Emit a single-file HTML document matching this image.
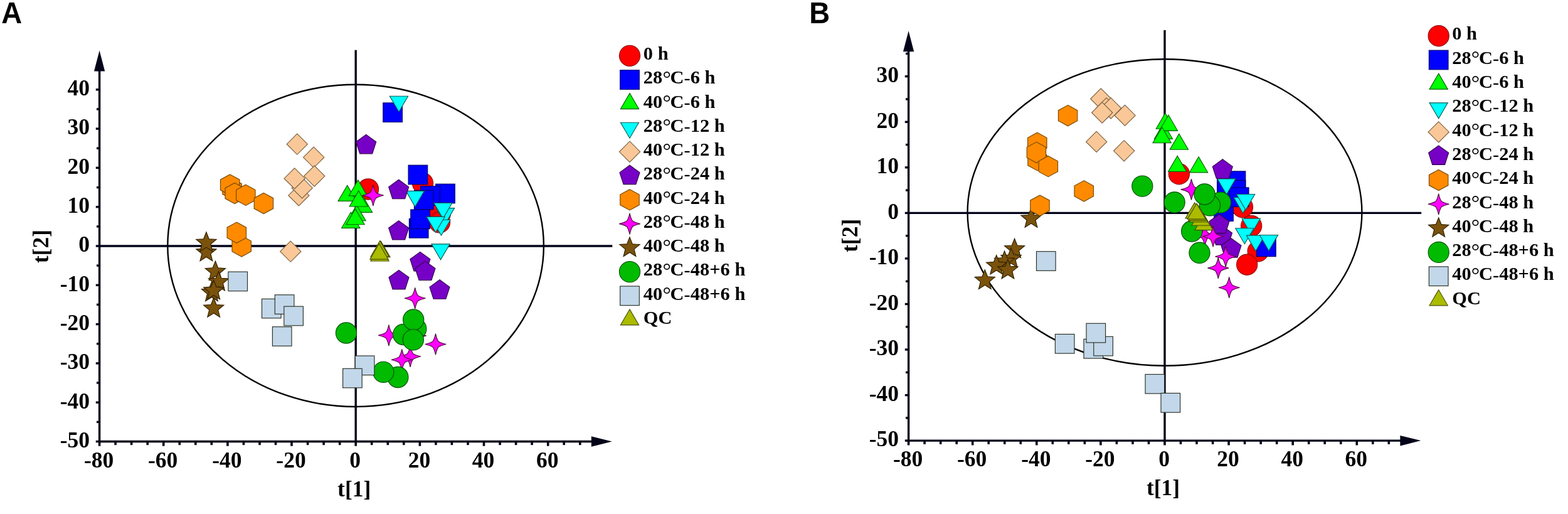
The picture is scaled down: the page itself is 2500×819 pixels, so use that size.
<!DOCTYPE html>
<html><head><meta charset="utf-8"><title>PCA score plots</title>
<style>
html,body{margin:0;padding:0;background:#fff;}
body{width:2500px;height:819px;overflow:hidden;}
svg{display:block;}
.tk{font-family:"Liberation Serif","Times New Roman",serif;font-weight:bold;font-size:35.5px;fill:#000;}
.lg{font-family:"Liberation Serif","Times New Roman",serif;font-weight:bold;font-size:30px;fill:#000;}
.dg{font-weight:normal;font-size:33px;}
.hy{font-weight:normal;}
.pl{font-family:"Liberation Sans",Arial,sans-serif;font-weight:bold;font-size:48.2px;fill:#000;}
</style></head><body>
<svg width="2500" height="819" viewBox="0 0 2500 819">
<rect width="100%" height="100%" fill="#fff"/>
<text class="pl" transform="translate(2.3,36.6) scale(0.945,1)">A</text>
<text class="pl" transform="translate(1290.2,36.6) scale(0.945,1)">B</text>
<ellipse cx="567.1" cy="391.4" rx="299.8" ry="256.6" fill="none" stroke="#000" stroke-width="2.4"/>
<line x1="158.6" y1="392" x2="976.3" y2="392" stroke="#03031a" stroke-width="3.4"/>
<line x1="567.2" y1="79.7" x2="567.2" y2="703.5" stroke="#03031a" stroke-width="3.4"/>
<line x1="158.6" y1="705.2" x2="158.6" y2="110.5" stroke="#03031a" stroke-width="3.4"/>
<line x1="156.9" y1="703.5" x2="945.8" y2="703.5" stroke="#03031a" stroke-width="3.4"/>
<polygon points="158.6,80.5 167.2,113.5 150,113.5" fill="#03031a"/>
<polygon points="975.8,703.5 942.8,695.2 942.8,711.8" fill="#03031a"/>
<line x1="158.6" y1="703.5" x2="158.6" y2="710.7" stroke="#03031a" stroke-width="3.6"/>
<line x1="184.1" y1="703.5" x2="184.1" y2="709.1" stroke="#03031a" stroke-width="3.6"/>
<line x1="209.6" y1="703.5" x2="209.6" y2="709.1" stroke="#03031a" stroke-width="3.6"/>
<line x1="235.2" y1="703.5" x2="235.2" y2="709.1" stroke="#03031a" stroke-width="3.6"/>
<line x1="260.7" y1="703.5" x2="260.7" y2="710.7" stroke="#03031a" stroke-width="3.6"/>
<line x1="286.3" y1="703.5" x2="286.3" y2="709.1" stroke="#03031a" stroke-width="3.6"/>
<line x1="311.8" y1="703.5" x2="311.8" y2="709.1" stroke="#03031a" stroke-width="3.6"/>
<line x1="337.3" y1="703.5" x2="337.3" y2="709.1" stroke="#03031a" stroke-width="3.6"/>
<line x1="362.9" y1="703.5" x2="362.9" y2="710.7" stroke="#03031a" stroke-width="3.6"/>
<line x1="388.4" y1="703.5" x2="388.4" y2="709.1" stroke="#03031a" stroke-width="3.6"/>
<line x1="414" y1="703.5" x2="414" y2="709.1" stroke="#03031a" stroke-width="3.6"/>
<line x1="439.5" y1="703.5" x2="439.5" y2="709.1" stroke="#03031a" stroke-width="3.6"/>
<line x1="465" y1="703.5" x2="465" y2="710.7" stroke="#03031a" stroke-width="3.6"/>
<line x1="490.6" y1="703.5" x2="490.6" y2="709.1" stroke="#03031a" stroke-width="3.6"/>
<line x1="516.1" y1="703.5" x2="516.1" y2="709.1" stroke="#03031a" stroke-width="3.6"/>
<line x1="541.7" y1="703.5" x2="541.7" y2="709.1" stroke="#03031a" stroke-width="3.6"/>
<line x1="567.2" y1="703.5" x2="567.2" y2="710.7" stroke="#03031a" stroke-width="3.6"/>
<line x1="592.7" y1="703.5" x2="592.7" y2="709.1" stroke="#03031a" stroke-width="3.6"/>
<line x1="618.3" y1="703.5" x2="618.3" y2="709.1" stroke="#03031a" stroke-width="3.6"/>
<line x1="643.8" y1="703.5" x2="643.8" y2="709.1" stroke="#03031a" stroke-width="3.6"/>
<line x1="669.4" y1="703.5" x2="669.4" y2="710.7" stroke="#03031a" stroke-width="3.6"/>
<line x1="694.9" y1="703.5" x2="694.9" y2="709.1" stroke="#03031a" stroke-width="3.6"/>
<line x1="720.4" y1="703.5" x2="720.4" y2="709.1" stroke="#03031a" stroke-width="3.6"/>
<line x1="746" y1="703.5" x2="746" y2="709.1" stroke="#03031a" stroke-width="3.6"/>
<line x1="771.5" y1="703.5" x2="771.5" y2="710.7" stroke="#03031a" stroke-width="3.6"/>
<line x1="797.1" y1="703.5" x2="797.1" y2="709.1" stroke="#03031a" stroke-width="3.6"/>
<line x1="822.6" y1="703.5" x2="822.6" y2="709.1" stroke="#03031a" stroke-width="3.6"/>
<line x1="848.1" y1="703.5" x2="848.1" y2="709.1" stroke="#03031a" stroke-width="3.6"/>
<line x1="873.7" y1="703.5" x2="873.7" y2="710.7" stroke="#03031a" stroke-width="3.6"/>
<line x1="899.2" y1="703.5" x2="899.2" y2="709.1" stroke="#03031a" stroke-width="3.6"/>
<line x1="924.8" y1="703.5" x2="924.8" y2="709.1" stroke="#03031a" stroke-width="3.6"/>
<line x1="950.3" y1="703.5" x2="950.3" y2="709.1" stroke="#03031a" stroke-width="3.6"/>
<line x1="158.6" y1="703.5" x2="152.8" y2="703.5" stroke="#03031a" stroke-width="3.4"/>
<line x1="158.6" y1="672.4" x2="154" y2="672.4" stroke="#03031a" stroke-width="3.4"/>
<line x1="158.6" y1="641.2" x2="152.8" y2="641.2" stroke="#03031a" stroke-width="3.4"/>
<line x1="158.6" y1="610" x2="154" y2="610" stroke="#03031a" stroke-width="3.4"/>
<line x1="158.6" y1="578.9" x2="152.8" y2="578.9" stroke="#03031a" stroke-width="3.4"/>
<line x1="158.6" y1="547.8" x2="154" y2="547.8" stroke="#03031a" stroke-width="3.4"/>
<line x1="158.6" y1="516.6" x2="152.8" y2="516.6" stroke="#03031a" stroke-width="3.4"/>
<line x1="158.6" y1="485.4" x2="154" y2="485.4" stroke="#03031a" stroke-width="3.4"/>
<line x1="158.6" y1="454.3" x2="152.8" y2="454.3" stroke="#03031a" stroke-width="3.4"/>
<line x1="158.6" y1="423.1" x2="154" y2="423.1" stroke="#03031a" stroke-width="3.4"/>
<line x1="158.6" y1="392" x2="152.8" y2="392" stroke="#03031a" stroke-width="3.4"/>
<line x1="158.6" y1="360.9" x2="154" y2="360.9" stroke="#03031a" stroke-width="3.4"/>
<line x1="158.6" y1="329.7" x2="152.8" y2="329.7" stroke="#03031a" stroke-width="3.4"/>
<line x1="158.6" y1="298.6" x2="154" y2="298.6" stroke="#03031a" stroke-width="3.4"/>
<line x1="158.6" y1="267.4" x2="152.8" y2="267.4" stroke="#03031a" stroke-width="3.4"/>
<line x1="158.6" y1="236.2" x2="154" y2="236.2" stroke="#03031a" stroke-width="3.4"/>
<line x1="158.6" y1="205.1" x2="152.8" y2="205.1" stroke="#03031a" stroke-width="3.4"/>
<line x1="158.6" y1="173.9" x2="154" y2="173.9" stroke="#03031a" stroke-width="3.4"/>
<line x1="158.6" y1="142.8" x2="152.8" y2="142.8" stroke="#03031a" stroke-width="3.4"/>
<line x1="158.6" y1="111.6" x2="154" y2="111.6" stroke="#03031a" stroke-width="3.4"/>
<text x="157.6" y="744.8" class="tk" text-anchor="middle">-80</text>
<text x="259.7" y="744.8" class="tk" text-anchor="middle">-60</text>
<text x="361.9" y="744.8" class="tk" text-anchor="middle">-40</text>
<text x="464" y="744.8" class="tk" text-anchor="middle">-20</text>
<text x="566.2" y="744.8" class="tk" text-anchor="middle">0</text>
<text x="668.4" y="744.8" class="tk" text-anchor="middle">20</text>
<text x="770.5" y="744.8" class="tk" text-anchor="middle">40</text>
<text x="872.7" y="744.8" class="tk" text-anchor="middle">60</text>
<text x="143.1" y="712.8" class="tk" text-anchor="end">-50</text>
<text x="143.1" y="650.5" class="tk" text-anchor="end">-40</text>
<text x="143.1" y="588.2" class="tk" text-anchor="end">-30</text>
<text x="143.1" y="525.9" class="tk" text-anchor="end">-20</text>
<text x="143.1" y="463.6" class="tk" text-anchor="end">-10</text>
<text x="143.1" y="401.3" class="tk" text-anchor="end">0</text>
<text x="143.1" y="339" class="tk" text-anchor="end">10</text>
<text x="143.1" y="276.7" class="tk" text-anchor="end">20</text>
<text x="143.1" y="214.4" class="tk" text-anchor="end">30</text>
<text x="143.1" y="152.1" class="tk" text-anchor="end">40</text>
<text x="564.7" y="790.8" class="tk" text-anchor="middle">t[1]</text>
<text class="tk" text-anchor="middle" transform="translate(76.6,392.6) rotate(-90)">t[2]</text>
<ellipse cx="1857" cy="338.5" rx="314.4" ry="244.3" fill="none" stroke="#000" stroke-width="2.4"/>
<line x1="1448.6" y1="339.4" x2="2266.2" y2="339.4" stroke="#03031a" stroke-width="3.4"/>
<line x1="1857" y1="48.1" x2="1857" y2="702.1" stroke="#03031a" stroke-width="3.4"/>
<line x1="1448.6" y1="703.9" x2="1448.6" y2="79.2" stroke="#03031a" stroke-width="3.4"/>
<line x1="1446.9" y1="702.1" x2="2235.4" y2="702.1" stroke="#03031a" stroke-width="3.4"/>
<polygon points="1448.6,49.2 1457.2,82.2 1440,82.2" fill="#03031a"/>
<polygon points="2265.4,702.1 2232.4,693.9 2232.4,710.4" fill="#03031a"/>
<line x1="1448.6" y1="702.1" x2="1448.6" y2="709.4" stroke="#03031a" stroke-width="3.6"/>
<line x1="1474.1" y1="702.1" x2="1474.1" y2="707.8" stroke="#03031a" stroke-width="3.6"/>
<line x1="1499.7" y1="702.1" x2="1499.7" y2="707.8" stroke="#03031a" stroke-width="3.6"/>
<line x1="1525.2" y1="702.1" x2="1525.2" y2="707.8" stroke="#03031a" stroke-width="3.6"/>
<line x1="1550.7" y1="702.1" x2="1550.7" y2="709.4" stroke="#03031a" stroke-width="3.6"/>
<line x1="1576.2" y1="702.1" x2="1576.2" y2="707.8" stroke="#03031a" stroke-width="3.6"/>
<line x1="1601.8" y1="702.1" x2="1601.8" y2="707.8" stroke="#03031a" stroke-width="3.6"/>
<line x1="1627.3" y1="702.1" x2="1627.3" y2="707.8" stroke="#03031a" stroke-width="3.6"/>
<line x1="1652.8" y1="702.1" x2="1652.8" y2="709.4" stroke="#03031a" stroke-width="3.6"/>
<line x1="1678.3" y1="702.1" x2="1678.3" y2="707.8" stroke="#03031a" stroke-width="3.6"/>
<line x1="1703.8" y1="702.1" x2="1703.8" y2="707.8" stroke="#03031a" stroke-width="3.6"/>
<line x1="1729.4" y1="702.1" x2="1729.4" y2="707.8" stroke="#03031a" stroke-width="3.6"/>
<line x1="1754.9" y1="702.1" x2="1754.9" y2="709.4" stroke="#03031a" stroke-width="3.6"/>
<line x1="1780.4" y1="702.1" x2="1780.4" y2="707.8" stroke="#03031a" stroke-width="3.6"/>
<line x1="1806" y1="702.1" x2="1806" y2="707.8" stroke="#03031a" stroke-width="3.6"/>
<line x1="1831.5" y1="702.1" x2="1831.5" y2="707.8" stroke="#03031a" stroke-width="3.6"/>
<line x1="1857" y1="702.1" x2="1857" y2="709.4" stroke="#03031a" stroke-width="3.6"/>
<line x1="1882.5" y1="702.1" x2="1882.5" y2="707.8" stroke="#03031a" stroke-width="3.6"/>
<line x1="1908" y1="702.1" x2="1908" y2="707.8" stroke="#03031a" stroke-width="3.6"/>
<line x1="1933.6" y1="702.1" x2="1933.6" y2="707.8" stroke="#03031a" stroke-width="3.6"/>
<line x1="1959.1" y1="702.1" x2="1959.1" y2="709.4" stroke="#03031a" stroke-width="3.6"/>
<line x1="1984.6" y1="702.1" x2="1984.6" y2="707.8" stroke="#03031a" stroke-width="3.6"/>
<line x1="2010.2" y1="702.1" x2="2010.2" y2="707.8" stroke="#03031a" stroke-width="3.6"/>
<line x1="2035.7" y1="702.1" x2="2035.7" y2="707.8" stroke="#03031a" stroke-width="3.6"/>
<line x1="2061.2" y1="702.1" x2="2061.2" y2="709.4" stroke="#03031a" stroke-width="3.6"/>
<line x1="2086.7" y1="702.1" x2="2086.7" y2="707.8" stroke="#03031a" stroke-width="3.6"/>
<line x1="2112.2" y1="702.1" x2="2112.2" y2="707.8" stroke="#03031a" stroke-width="3.6"/>
<line x1="2137.8" y1="702.1" x2="2137.8" y2="707.8" stroke="#03031a" stroke-width="3.6"/>
<line x1="2163.3" y1="702.1" x2="2163.3" y2="709.4" stroke="#03031a" stroke-width="3.6"/>
<line x1="2188.8" y1="702.1" x2="2188.8" y2="707.8" stroke="#03031a" stroke-width="3.6"/>
<line x1="2214.3" y1="702.1" x2="2214.3" y2="707.8" stroke="#03031a" stroke-width="3.6"/>
<line x1="2239.9" y1="702.1" x2="2239.9" y2="707.8" stroke="#03031a" stroke-width="3.6"/>
<line x1="1448.6" y1="702.1" x2="1442.8" y2="702.1" stroke="#03031a" stroke-width="3.4"/>
<line x1="1448.6" y1="665.9" x2="1444" y2="665.9" stroke="#03031a" stroke-width="3.4"/>
<line x1="1448.6" y1="629.6" x2="1442.8" y2="629.6" stroke="#03031a" stroke-width="3.4"/>
<line x1="1448.6" y1="593.3" x2="1444" y2="593.3" stroke="#03031a" stroke-width="3.4"/>
<line x1="1448.6" y1="557" x2="1442.8" y2="557" stroke="#03031a" stroke-width="3.4"/>
<line x1="1448.6" y1="520.8" x2="1444" y2="520.8" stroke="#03031a" stroke-width="3.4"/>
<line x1="1448.6" y1="484.5" x2="1442.8" y2="484.5" stroke="#03031a" stroke-width="3.4"/>
<line x1="1448.6" y1="448.2" x2="1444" y2="448.2" stroke="#03031a" stroke-width="3.4"/>
<line x1="1448.6" y1="411.9" x2="1442.8" y2="411.9" stroke="#03031a" stroke-width="3.4"/>
<line x1="1448.6" y1="375.7" x2="1444" y2="375.7" stroke="#03031a" stroke-width="3.4"/>
<line x1="1448.6" y1="339.4" x2="1442.8" y2="339.4" stroke="#03031a" stroke-width="3.4"/>
<line x1="1448.6" y1="303.1" x2="1444" y2="303.1" stroke="#03031a" stroke-width="3.4"/>
<line x1="1448.6" y1="266.8" x2="1442.8" y2="266.8" stroke="#03031a" stroke-width="3.4"/>
<line x1="1448.6" y1="230.6" x2="1444" y2="230.6" stroke="#03031a" stroke-width="3.4"/>
<line x1="1448.6" y1="194.3" x2="1442.8" y2="194.3" stroke="#03031a" stroke-width="3.4"/>
<line x1="1448.6" y1="158" x2="1444" y2="158" stroke="#03031a" stroke-width="3.4"/>
<line x1="1448.6" y1="121.7" x2="1442.8" y2="121.7" stroke="#03031a" stroke-width="3.4"/>
<line x1="1448.6" y1="85.5" x2="1444" y2="85.5" stroke="#03031a" stroke-width="3.4"/>
<text x="1447.6" y="743.4" class="tk" text-anchor="middle">-80</text>
<text x="1549.7" y="743.4" class="tk" text-anchor="middle">-60</text>
<text x="1651.8" y="743.4" class="tk" text-anchor="middle">-40</text>
<text x="1753.9" y="743.4" class="tk" text-anchor="middle">-20</text>
<text x="1856" y="743.4" class="tk" text-anchor="middle">0</text>
<text x="1958.1" y="743.4" class="tk" text-anchor="middle">20</text>
<text x="2060.2" y="743.4" class="tk" text-anchor="middle">40</text>
<text x="2162.3" y="743.4" class="tk" text-anchor="middle">60</text>
<text x="1433.1" y="711.4" class="tk" text-anchor="end">-50</text>
<text x="1433.1" y="638.9" class="tk" text-anchor="end">-40</text>
<text x="1433.1" y="566.3" class="tk" text-anchor="end">-30</text>
<text x="1433.1" y="493.8" class="tk" text-anchor="end">-20</text>
<text x="1433.1" y="421.2" class="tk" text-anchor="end">-10</text>
<text x="1433.1" y="348.7" class="tk" text-anchor="end">0</text>
<text x="1433.1" y="276.1" class="tk" text-anchor="end">10</text>
<text x="1433.1" y="203.6" class="tk" text-anchor="end">20</text>
<text x="1433.1" y="131" class="tk" text-anchor="end">30</text>
<text x="1854.5" y="789.4" class="tk" text-anchor="middle">t[1]</text>
<text class="tk" text-anchor="middle" transform="translate(1367,375.4) rotate(-90)">t[2]</text>
<g stroke-width="1.15">
<circle cx="587" cy="301.5" r="16.6" fill="#ff0000" stroke="#8c1010"/>
<circle cx="674" cy="292" r="16.6" fill="#ff0000" stroke="#8c1010"/>
<circle cx="702" cy="340" r="16.6" fill="#ff0000" stroke="#8c1010"/>
<circle cx="701" cy="354.3" r="16.6" fill="#ff0000" stroke="#8c1010"/>
<rect x="610.8" y="163.9" width="30.6" height="30.6" fill="#0000ff" stroke="#00006a"/>
<rect x="651.1" y="263.2" width="30.6" height="30.6" fill="#0000ff" stroke="#00006a"/>
<rect x="694.7" y="293.2" width="30.6" height="30.6" fill="#0000ff" stroke="#00006a"/>
<rect x="670.7" y="296.7" width="30.6" height="30.6" fill="#0000ff" stroke="#00006a"/>
<rect x="660.5" y="303.2" width="30.6" height="30.6" fill="#0000ff" stroke="#00006a"/>
<rect x="652.4" y="348.5" width="30.6" height="30.6" fill="#0000ff" stroke="#00006a"/>
<rect x="654.8" y="334" width="30.6" height="30.6" fill="#0000ff" stroke="#00006a"/>
<polygon points="553.7,295.4 568.3,320.4 539.1,320.4" fill="#00ff00" stroke="#006000"/>
<polygon points="570.8,286.9 585.4,311.9 556.2,311.9" fill="#00ff00" stroke="#006000"/>
<polygon points="579,313.3 593.6,338.3 564.4,338.3" fill="#00ff00" stroke="#006000"/>
<polygon points="568.6,326.7 583.2,351.7 554,351.7" fill="#00ff00" stroke="#006000"/>
<polygon points="559.3,338.3 573.9,363.3 544.7,363.3" fill="#00ff00" stroke="#006000"/>
<polygon points="566.5,332.7 581.1,357.7 551.9,357.7" fill="#00ff00" stroke="#006000"/>
<polygon points="571.8,304 586.4,329 557.2,329" fill="#00ff00" stroke="#006000"/>
<polygon points="621.4,153.2 650.6,153.2 636,178.2" fill="#00ffff" stroke="#0f5a50"/>
<polygon points="647.2,304.3 676.4,304.3 661.8,329.3" fill="#00ffff" stroke="#0f5a50"/>
<polygon points="695.4,331.6 724.6,331.6 710,356.6" fill="#00ffff" stroke="#0f5a50"/>
<polygon points="691.7,323.3 720.9,323.3 706.3,348.3" fill="#00ffff" stroke="#0f5a50"/>
<polygon points="688.9,350.2 718.1,350.2 703.5,375.2" fill="#00ffff" stroke="#0f5a50"/>
<polygon points="680,345.3 709.2,345.3 694.6,370.3" fill="#00ffff" stroke="#0f5a50"/>
<polygon points="688,388.8 717.2,388.8 702.6,413.8" fill="#00ffff" stroke="#0f5a50"/>
<polygon points="473.8,213.1 490.4,229.7 473.8,246.3 457.2,229.7" fill="#fac898" stroke="#7a6040"/>
<polygon points="500.2,234.1 516.8,250.7 500.2,267.3 483.6,250.7" fill="#fac898" stroke="#7a6040"/>
<polygon points="501.2,264 517.8,280.6 501.2,297.2 484.6,280.6" fill="#fac898" stroke="#7a6040"/>
<polygon points="476.4,294.8 493,311.4 476.4,328 459.8,311.4" fill="#fac898" stroke="#7a6040"/>
<polygon points="481.7,282.8 498.3,299.4 481.7,316 465.1,299.4" fill="#fac898" stroke="#7a6040"/>
<polygon points="469.7,267.8 486.3,284.4 469.7,301 453.1,284.4" fill="#fac898" stroke="#7a6040"/>
<polygon points="463.3,384.1 479.9,400.7 463.3,417.3 446.7,400.7" fill="#fac898" stroke="#7a6040"/>
<polygon points="583.7,214.4 599.7,226 593.6,244.8 573.8,244.8 567.7,226" fill="#7700c6" stroke="#30004a"/>
<polygon points="635.7,286.3 651.7,297.9 645.6,316.7 625.8,316.7 619.7,297.9" fill="#7700c6" stroke="#30004a"/>
<polygon points="635.7,351.6 651.7,363.2 645.6,382 625.8,382 619.7,363.2" fill="#7700c6" stroke="#30004a"/>
<polygon points="669.9,401.4 685.9,413 679.8,431.8 660,431.8 653.9,413" fill="#7700c6" stroke="#30004a"/>
<polygon points="678,416.1 694,427.7 687.9,446.5 668.1,446.5 662,427.7" fill="#7700c6" stroke="#30004a"/>
<polygon points="636,430.4 652,442 645.9,460.8 626.1,460.8 620,442" fill="#7700c6" stroke="#30004a"/>
<polygon points="701,445.8 717,457.4 710.9,476.2 691.1,476.2 685,457.4" fill="#7700c6" stroke="#30004a"/>
<polygon points="370,284.4 385.2,292.7 385.2,309.3 370,317.6 354.8,309.3 354.8,292.7" fill="#ff8a00" stroke="#754800"/>
<polygon points="366.7,277.9 381.9,286.2 381.9,302.8 366.7,311.1 351.5,302.8 351.5,286.2" fill="#ff8a00" stroke="#754800"/>
<polygon points="374.2,291.4 389.4,299.7 389.4,316.3 374.2,324.6 359,316.3 359,299.7" fill="#ff8a00" stroke="#754800"/>
<polygon points="391.8,294.2 407,302.5 407,319.1 391.8,327.4 376.6,319.1 376.6,302.5" fill="#ff8a00" stroke="#754800"/>
<polygon points="420.4,307.4 435.6,315.7 435.6,332.3 420.4,340.6 405.2,332.3 405.2,315.7" fill="#ff8a00" stroke="#754800"/>
<polygon points="385.2,375.8 400.4,384.1 400.4,400.7 385.2,409 370,400.7 370,384.1" fill="#ff8a00" stroke="#754800"/>
<polygon points="377.3,354.1 392.5,362.4 392.5,379 377.3,387.3 362.1,379 362.1,362.4" fill="#ff8a00" stroke="#754800"/>
<path d="M663,518.2 Q664.8,526.5 667.5,530.5 Q671.5,533.2 679.8,535 Q671.5,536.8 667.5,539.5 Q664.8,543.5 663,551.8 Q661.2,543.5 658.5,539.5 Q654.5,536.8 646.2,535 Q654.5,533.2 658.5,530.5 Q661.2,526.5 663,518.2Z" fill="#ff00ff" stroke="#4a1038"/>
<path d="M594.9,294.5 Q596.7,302.8 599.4,306.8 Q603.4,309.5 611.7,311.3 Q603.4,313.1 599.4,315.8 Q596.7,319.8 594.9,328.1 Q593.1,319.8 590.4,315.8 Q586.4,313.1 578.1,311.3 Q586.4,309.5 590.4,306.8 Q593.1,302.8 594.9,294.5Z" fill="#ff00ff" stroke="#4a1038"/>
<path d="M661.7,458.4 Q663.5,466.7 666.2,470.7 Q670.2,473.4 678.5,475.2 Q670.2,477 666.2,479.7 Q663.5,483.7 661.7,492 Q659.9,483.7 657.2,479.7 Q653.2,477 644.9,475.2 Q653.2,473.4 657.2,470.7 Q659.9,466.7 661.7,458.4Z" fill="#ff00ff" stroke="#4a1038"/>
<path d="M619.9,517.5 Q621.7,525.8 624.4,529.8 Q628.4,532.5 636.7,534.3 Q628.4,536.1 624.4,538.8 Q621.7,542.8 619.9,551.1 Q618.1,542.8 615.4,538.8 Q611.4,536.1 603.1,534.3 Q611.4,532.5 615.4,529.8 Q618.1,525.8 619.9,517.5Z" fill="#ff00ff" stroke="#4a1038"/>
<path d="M694.5,531.7 Q696.3,540 699,544 Q703,546.7 711.3,548.5 Q703,550.3 699,553 Q696.3,557 694.5,565.3 Q692.7,557 690,553 Q686,550.3 677.7,548.5 Q686,546.7 690,544 Q692.7,540 694.5,531.7Z" fill="#ff00ff" stroke="#4a1038"/>
<path d="M654.1,551.2 Q655.9,559.5 658.6,563.5 Q662.6,566.2 670.9,568 Q662.6,569.8 658.6,572.5 Q655.9,576.5 654.1,584.8 Q652.3,576.5 649.6,572.5 Q645.6,569.8 637.3,568 Q645.6,566.2 649.6,563.5 Q652.3,559.5 654.1,551.2Z" fill="#ff00ff" stroke="#4a1038"/>
<path d="M640.8,556.4 Q642.6,564.7 645.3,568.7 Q649.3,571.4 657.6,573.2 Q649.3,575 645.3,577.7 Q642.6,581.7 640.8,590 Q639,581.7 636.3,577.7 Q632.3,575 624,573.2 Q632.3,571.4 636.3,568.7 Q639,564.7 640.8,556.4Z" fill="#ff00ff" stroke="#4a1038"/>
<polygon points="328.9,385.2 333.2,396.1 345,396.9 335.9,404.4 338.8,415.8 328.9,409.5 319,415.8 321.9,404.4 312.8,396.9 324.6,396.1" fill="#7a520c" stroke="#2e2000"/>
<polygon points="328.9,369.8 333.2,380.7 345,381.5 335.9,389 338.8,400.4 328.9,394.1 319,400.4 321.9,389 312.8,381.5 324.6,380.7" fill="#7a520c" stroke="#2e2000"/>
<polygon points="343.4,416 347.7,426.9 359.5,427.7 350.4,435.2 353.3,446.6 343.4,440.3 333.5,446.6 336.4,435.2 327.3,427.7 339.1,426.9" fill="#7a520c" stroke="#2e2000"/>
<polygon points="348.5,432.4 352.8,443.3 364.6,444.1 355.5,451.6 358.4,463 348.5,456.7 338.6,463 341.5,451.6 332.4,444.1 344.2,443.3" fill="#7a520c" stroke="#2e2000"/>
<polygon points="337.5,449.1 341.8,460 353.6,460.8 344.5,468.3 347.4,479.7 337.5,473.4 327.6,479.7 330.5,468.3 321.4,460.8 333.2,460" fill="#7a520c" stroke="#2e2000"/>
<polygon points="340.7,446.2 345,457.1 356.8,457.9 347.7,465.4 350.6,476.8 340.7,470.5 330.8,476.8 333.7,465.4 324.6,457.9 336.4,457.1" fill="#7a520c" stroke="#2e2000"/>
<polygon points="340.7,474.6 345,485.5 356.8,486.3 347.7,493.8 350.6,505.2 340.7,498.9 330.8,505.2 333.7,493.8 324.6,486.3 336.4,485.5" fill="#7a520c" stroke="#2e2000"/>
<circle cx="552" cy="530.5" r="16.6" fill="#00bb00" stroke="#005000"/>
<circle cx="663.3" cy="524" r="16.6" fill="#00bb00" stroke="#005000"/>
<circle cx="643.2" cy="533" r="16.6" fill="#00bb00" stroke="#005000"/>
<circle cx="659.2" cy="509.5" r="16.6" fill="#00bb00" stroke="#005000"/>
<circle cx="658.8" cy="541.3" r="16.6" fill="#00bb00" stroke="#005000"/>
<circle cx="634.4" cy="601" r="16.6" fill="#00bb00" stroke="#005000"/>
<circle cx="611.3" cy="592.8" r="16.6" fill="#00bb00" stroke="#005000"/>
<rect x="363.9" y="433.1" width="30.6" height="30.6" fill="#c2d7ea" stroke="#2a3024"/>
<rect x="417.5" y="476.3" width="30.6" height="30.6" fill="#c2d7ea" stroke="#2a3024"/>
<rect x="438.3" y="469.8" width="30.6" height="30.6" fill="#c2d7ea" stroke="#2a3024"/>
<rect x="452.8" y="488.2" width="30.6" height="30.6" fill="#c2d7ea" stroke="#2a3024"/>
<rect x="434.4" y="520.7" width="30.6" height="30.6" fill="#c2d7ea" stroke="#2a3024"/>
<rect x="566.3" y="567" width="30.6" height="30.6" fill="#c2d7ea" stroke="#2a3024"/>
<rect x="546.6" y="587.3" width="30.6" height="30.6" fill="#c2d7ea" stroke="#2a3024"/>
<polygon points="607.4,384.6 622,409.6 592.8,409.6" fill="#aabb00" stroke="#4a5000"/>
<polygon points="606.5,384.2 621.1,409.2 591.9,409.2" fill="#aabb00" stroke="#4a5000"/>
<polygon points="605.6,383.8 620.2,408.8 591,408.8" fill="#aabb00" stroke="#4a5000"/>
<polygon points="605.5,391 620.1,416 590.9,416" fill="#aabb00" stroke="#4a5000"/>
<polygon points="604.5,388.1 619.1,413.1 589.9,413.1" fill="#aabb00" stroke="#4a5000"/>
<polygon points="1644,331.6 1648.3,342.5 1660.1,343.3 1651,350.8 1653.9,362.2 1644,355.9 1634.1,362.2 1637,350.8 1627.9,343.3 1639.7,342.5" fill="#7a520c" stroke="#2e2000"/>
<circle cx="1879.9" cy="277.2" r="16.6" fill="#ff0000" stroke="#8c1010"/>
<circle cx="1981" cy="330" r="16.6" fill="#ff0000" stroke="#8c1010"/>
<circle cx="1995.2" cy="360" r="16.6" fill="#ff0000" stroke="#8c1010"/>
<circle cx="2005.7" cy="400.4" r="16.6" fill="#ff0000" stroke="#8c1010"/>
<circle cx="1988.2" cy="421.7" r="16.6" fill="#ff0000" stroke="#8c1010"/>
<rect x="1935.7" y="321.7" width="30.6" height="30.6" fill="#0000ff" stroke="#00006a"/>
<rect x="1941.3" y="296.7" width="30.6" height="30.6" fill="#0000ff" stroke="#00006a"/>
<rect x="1940.7" y="278.7" width="30.6" height="30.6" fill="#0000ff" stroke="#00006a"/>
<rect x="1955.2" y="272.9" width="30.6" height="30.6" fill="#0000ff" stroke="#00006a"/>
<rect x="1955.2" y="287.5" width="30.6" height="30.6" fill="#0000ff" stroke="#00006a"/>
<rect x="1960.4" y="298.9" width="30.6" height="30.6" fill="#0000ff" stroke="#00006a"/>
<rect x="2003.6" y="378.1" width="30.6" height="30.6" fill="#0000ff" stroke="#00006a"/>
<polygon points="1855,196.3 1869.6,221.3 1840.4,221.3" fill="#00ff00" stroke="#006000"/>
<polygon points="1857.9,180.2 1872.5,205.2 1843.3,205.2" fill="#00ff00" stroke="#006000"/>
<polygon points="1863,183.3 1877.6,208.3 1848.4,208.3" fill="#00ff00" stroke="#006000"/>
<polygon points="1852.7,202.7 1867.3,227.7 1838.1,227.7" fill="#00ff00" stroke="#006000"/>
<polygon points="1879.9,213.2 1894.5,238.2 1865.3,238.2" fill="#00ff00" stroke="#006000"/>
<polygon points="1877.2,248.4 1891.8,273.4 1862.6,273.4" fill="#00ff00" stroke="#006000"/>
<polygon points="1911.1,249.8 1925.7,274.8 1896.5,274.8" fill="#00ff00" stroke="#006000"/>
<polygon points="1940.9,284.8 1970.1,284.8 1955.5,309.8" fill="#00ffff" stroke="#0f5a50"/>
<polygon points="1967.1,314.7 1996.3,314.7 1981.7,339.7" fill="#00ffff" stroke="#0f5a50"/>
<polygon points="1971.5,309.5 2000.7,309.5 1986.1,334.5" fill="#00ffff" stroke="#0f5a50"/>
<polygon points="1980.2,348.2 2009.4,348.2 1994.8,373.2" fill="#00ffff" stroke="#0f5a50"/>
<polygon points="1969.8,363.7 1999,363.7 1984.4,388.7" fill="#00ffff" stroke="#0f5a50"/>
<polygon points="1987.4,375.1 2016.6,375.1 2002,400.1" fill="#00ffff" stroke="#0f5a50"/>
<polygon points="2008.4,374.5 2037.6,374.5 2023,399.5" fill="#00ffff" stroke="#0f5a50"/>
<polygon points="1755.3,140.9 1771.9,157.5 1755.3,174.1 1738.7,157.5" fill="#fac898" stroke="#7a6040"/>
<polygon points="1764,155.9 1780.6,172.5 1764,189.1 1747.4,172.5" fill="#fac898" stroke="#7a6040"/>
<polygon points="1771.2,155.9 1787.8,172.5 1771.2,189.1 1754.6,172.5" fill="#fac898" stroke="#7a6040"/>
<polygon points="1757.2,162.9 1773.8,179.5 1757.2,196.1 1740.6,179.5" fill="#fac898" stroke="#7a6040"/>
<polygon points="1793.6,167.3 1810.2,183.9 1793.6,200.5 1777,183.9" fill="#fac898" stroke="#7a6040"/>
<polygon points="1748.2,209.3 1764.8,225.9 1748.2,242.5 1731.6,225.9" fill="#fac898" stroke="#7a6040"/>
<polygon points="1792.2,223.7 1808.8,240.3 1792.2,256.9 1775.6,240.3" fill="#fac898" stroke="#7a6040"/>
<polygon points="1949.3,253.8 1965.3,265.4 1959.2,284.2 1939.4,284.2 1933.3,265.4" fill="#7700c6" stroke="#30004a"/>
<polygon points="1948.5,359.7 1964.5,371.3 1958.4,390.1 1938.6,390.1 1932.5,371.3" fill="#7700c6" stroke="#30004a"/>
<polygon points="1944,341.2 1960,352.8 1953.9,371.6 1934.1,371.6 1928,352.8" fill="#7700c6" stroke="#30004a"/>
<polygon points="1963,379.7 1979,391.3 1972.9,410.1 1953.1,410.1 1947,391.3" fill="#7700c6" stroke="#30004a"/>
<polygon points="1702.6,167.6 1717.8,175.9 1717.8,192.5 1702.6,200.8 1687.4,192.5 1687.4,175.9" fill="#ff8a00" stroke="#754800"/>
<polygon points="1653.8,211.2 1669,219.5 1669,236.1 1653.8,244.4 1638.6,236.1 1638.6,219.5" fill="#ff8a00" stroke="#754800"/>
<polygon points="1654,238.7 1669.2,247 1669.2,263.6 1654,271.9 1638.8,263.6 1638.8,247" fill="#ff8a00" stroke="#754800"/>
<polygon points="1652.4,226.3 1667.6,234.6 1667.6,251.2 1652.4,259.5 1637.2,251.2 1637.2,234.6" fill="#ff8a00" stroke="#754800"/>
<polygon points="1671.3,248.5 1686.5,256.8 1686.5,273.4 1671.3,281.7 1656.1,273.4 1656.1,256.8" fill="#ff8a00" stroke="#754800"/>
<polygon points="1728.2,287.8 1743.4,296.1 1743.4,312.7 1728.2,321 1713,312.7 1713,296.1" fill="#ff8a00" stroke="#754800"/>
<polygon points="1658,310.9 1673.2,319.2 1673.2,335.8 1658,344.1 1642.8,335.8 1642.8,319.2" fill="#ff8a00" stroke="#754800"/>
<path d="M1899.5,285.1 Q1901.3,293.4 1904,297.4 Q1908,300.1 1916.3,301.9 Q1908,303.7 1904,306.4 Q1901.3,310.4 1899.5,318.7 Q1897.7,310.4 1895,306.4 Q1891,303.7 1882.7,301.9 Q1891,300.1 1895,297.4 Q1897.7,293.4 1899.5,285.1Z" fill="#ff00ff" stroke="#4a1038"/>
<path d="M1921,358.2 Q1922.8,366.5 1925.5,370.5 Q1929.5,373.2 1937.8,375 Q1929.5,376.8 1925.5,379.5 Q1922.8,383.5 1921,391.8 Q1919.2,383.5 1916.5,379.5 Q1912.5,376.8 1904.2,375 Q1912.5,373.2 1916.5,370.5 Q1919.2,366.5 1921,358.2Z" fill="#ff00ff" stroke="#4a1038"/>
<path d="M1934.1,359.9 Q1935.9,368.2 1938.6,372.2 Q1942.6,374.9 1950.9,376.7 Q1942.6,378.5 1938.6,381.2 Q1935.9,385.2 1934.1,393.5 Q1932.3,385.2 1929.6,381.2 Q1925.6,378.5 1917.3,376.7 Q1925.6,374.9 1929.6,372.2 Q1932.3,368.2 1934.1,359.9Z" fill="#ff00ff" stroke="#4a1038"/>
<path d="M1954.2,392 Q1956,400.3 1958.7,404.3 Q1962.7,407 1971,408.8 Q1962.7,410.6 1958.7,413.3 Q1956,417.3 1954.2,425.6 Q1952.4,417.3 1949.7,413.3 Q1945.7,410.6 1937.4,408.8 Q1945.7,407 1949.7,404.3 Q1952.4,400.3 1954.2,392Z" fill="#ff00ff" stroke="#4a1038"/>
<path d="M1942.3,410.3 Q1944.1,418.6 1946.8,422.6 Q1950.8,425.3 1959.1,427.1 Q1950.8,428.9 1946.8,431.6 Q1944.1,435.6 1942.3,443.9 Q1940.5,435.6 1937.8,431.6 Q1933.8,428.9 1925.5,427.1 Q1933.8,425.3 1937.8,422.6 Q1940.5,418.6 1942.3,410.3Z" fill="#ff00ff" stroke="#4a1038"/>
<path d="M1959.7,441.4 Q1961.5,449.7 1964.2,453.7 Q1968.2,456.4 1976.5,458.2 Q1968.2,460 1964.2,462.7 Q1961.5,466.7 1959.7,475 Q1957.9,466.7 1955.2,462.7 Q1951.2,460 1942.9,458.2 Q1951.2,456.4 1955.2,453.7 Q1957.9,449.7 1959.7,441.4Z" fill="#ff00ff" stroke="#4a1038"/>
<polygon points="1617.6,380.1 1621.9,391 1633.7,391.8 1624.6,399.3 1627.5,410.7 1617.6,404.4 1607.7,410.7 1610.6,399.3 1601.5,391.8 1613.3,391" fill="#7a520c" stroke="#2e2000"/>
<polygon points="1612.1,395.1 1616.4,406 1628.2,406.8 1619.1,414.3 1622,425.7 1612.1,419.4 1602.2,425.7 1605.1,414.3 1596,406.8 1607.8,406" fill="#7a520c" stroke="#2e2000"/>
<polygon points="1601.6,399.9 1605.9,410.8 1617.7,411.6 1608.6,419.1 1611.5,430.5 1601.6,424.2 1591.7,430.5 1594.6,419.1 1585.5,411.6 1597.3,410.8" fill="#7a520c" stroke="#2e2000"/>
<polygon points="1588.7,406.5 1593,417.4 1604.8,418.2 1595.7,425.7 1598.6,437.1 1588.7,430.8 1578.8,437.1 1581.7,425.7 1572.6,418.2 1584.4,417.4" fill="#7a520c" stroke="#2e2000"/>
<polygon points="1606.9,413.4 1611.2,424.3 1623,425.1 1613.9,432.6 1616.8,444 1606.9,437.7 1597,444 1599.9,432.6 1590.8,425.1 1602.6,424.3" fill="#7a520c" stroke="#2e2000"/>
<polygon points="1570.3,429.9 1574.6,440.8 1586.4,441.6 1577.3,449.1 1580.2,460.5 1570.3,454.2 1560.4,460.5 1563.3,449.1 1554.2,441.6 1566,440.8" fill="#7a520c" stroke="#2e2000"/>
<circle cx="1821.3" cy="296.6" r="16.6" fill="#00bb00" stroke="#005000"/>
<circle cx="1872.6" cy="322.4" r="16.6" fill="#00bb00" stroke="#005000"/>
<circle cx="1946" cy="322.6" r="16.6" fill="#00bb00" stroke="#005000"/>
<circle cx="1929" cy="327.3" r="16.6" fill="#00bb00" stroke="#005000"/>
<circle cx="1920.5" cy="309.5" r="16.6" fill="#00bb00" stroke="#005000"/>
<circle cx="1900.2" cy="368.5" r="16.6" fill="#00bb00" stroke="#005000"/>
<circle cx="1912.5" cy="402.8" r="16.6" fill="#00bb00" stroke="#005000"/>
<rect x="1652.5" y="400.7" width="30.6" height="30.6" fill="#c2d7ea" stroke="#2a3024"/>
<rect x="1682.4" y="532.5" width="30.6" height="30.6" fill="#c2d7ea" stroke="#2a3024"/>
<rect x="1728" y="540.4" width="30.6" height="30.6" fill="#c2d7ea" stroke="#2a3024"/>
<rect x="1743.8" y="536.3" width="30.6" height="30.6" fill="#c2d7ea" stroke="#2a3024"/>
<rect x="1732" y="515.3" width="30.6" height="30.6" fill="#c2d7ea" stroke="#2a3024"/>
<rect x="1826" y="596.5" width="30.6" height="30.6" fill="#c2d7ea" stroke="#2a3024"/>
<rect x="1851" y="626.5" width="30.6" height="30.6" fill="#c2d7ea" stroke="#2a3024"/>
<polygon points="1919.5,341.6 1934.1,366.6 1904.9,366.6" fill="#aabb00" stroke="#4a5000"/>
<polygon points="1914.6,334.2 1929.2,359.2 1900,359.2" fill="#aabb00" stroke="#4a5000"/>
<polygon points="1911,328.7 1925.6,353.7 1896.4,353.7" fill="#aabb00" stroke="#4a5000"/>
<polygon points="1909.5,326.3 1924.1,351.3 1894.9,351.3" fill="#aabb00" stroke="#4a5000"/>
<polygon points="1904.6,322.9 1919.2,347.9 1890,347.9" fill="#aabb00" stroke="#4a5000"/>
<polygon points="1907.8,324.1 1922.4,349.1 1893.2,349.1" fill="#aabb00" stroke="#4a5000"/>
<circle cx="1004" cy="88.8" r="16.6" fill="#ff0000" stroke="#8c1010"/>
<text class="lg" transform="translate(1025.8,95) scale(1.015,1)">0 h</text>
<rect x="988.7" y="111.8" width="30.6" height="30.6" fill="#0000ff" stroke="#00006a"/>
<text class="lg" transform="translate(1025.8,133.2) scale(1.015,1)">28<tspan class="dg" dx="0.2" dy="2.6">°</tspan><tspan dx="-1.2" dy="-2.6">C</tspan><tspan class="hy" dy="1.2">-</tspan><tspan dy="-1.2">6 h</tspan></text>
<polygon points="1004,148.6 1018.6,173.6 989.4,173.6" fill="#00ff00" stroke="#006000"/>
<text class="lg" transform="translate(1025.8,171.5) scale(1.015,1)">40<tspan class="dg" dx="0.2" dy="2.6">°</tspan><tspan dx="-1.2" dy="-2.6">C</tspan><tspan class="hy" dy="1.2">-</tspan><tspan dy="-1.2">6 h</tspan></text>
<polygon points="989.4,195.2 1018.6,195.2 1004,220.2" fill="#00ffff" stroke="#0f5a50"/>
<text class="lg" transform="translate(1025.8,209.8) scale(1.015,1)">28<tspan class="dg" dx="0.2" dy="2.6">°</tspan><tspan dx="-1.2" dy="-2.6">C</tspan><tspan class="hy" dy="1.2">-</tspan><tspan dy="-1.2">12 h</tspan></text>
<polygon points="1004,225.2 1020.6,241.8 1004,258.4 987.4,241.8" fill="#fac898" stroke="#7a6040"/>
<text class="lg" transform="translate(1025.8,248) scale(1.015,1)">40<tspan class="dg" dx="0.2" dy="2.6">°</tspan><tspan dx="-1.2" dy="-2.6">C</tspan><tspan class="hy" dy="1.2">-</tspan><tspan dy="-1.2">12 h</tspan></text>
<polygon points="1004,263.2 1020,274.9 1013.9,293.6 994.1,293.6 988,274.9" fill="#7700c6" stroke="#30004a"/>
<text class="lg" transform="translate(1025.8,286.2) scale(1.015,1)">28<tspan class="dg" dx="0.2" dy="2.6">°</tspan><tspan dx="-1.2" dy="-2.6">C</tspan><tspan class="hy" dy="1.2">-</tspan><tspan dy="-1.2">24 h</tspan></text>
<polygon points="1004,301.7 1019.2,310 1019.2,326.6 1004,334.9 988.8,326.6 988.8,310" fill="#ff8a00" stroke="#754800"/>
<text class="lg" transform="translate(1025.8,324.5) scale(1.015,1)">40<tspan class="dg" dx="0.2" dy="2.6">°</tspan><tspan dx="-1.2" dy="-2.6">C</tspan><tspan class="hy" dy="1.2">-</tspan><tspan dy="-1.2">24 h</tspan></text>
<path d="M1004,339.8 Q1005.8,348 1008.5,352 Q1012.5,354.7 1020.8,356.6 Q1012.5,358.4 1008.5,361.1 Q1005.8,365.1 1004,373.4 Q1002.2,365.1 999.5,361.1 Q995.5,358.4 987.2,356.6 Q995.5,354.7 999.5,352 Q1002.2,348 1004,339.8Z" fill="#ff00ff" stroke="#4a1038"/>
<text class="lg" transform="translate(1025.8,362.8) scale(1.015,1)">28<tspan class="dg" dx="0.2" dy="2.6">°</tspan><tspan dx="-1.2" dy="-2.6">C</tspan><tspan class="hy" dy="1.2">-</tspan><tspan dy="-1.2">48 h</tspan></text>
<polygon points="1004,377.9 1008.3,388.8 1020.1,389.6 1011,397.1 1013.9,408.5 1004,402.2 994.1,408.5 997,397.1 987.9,389.6 999.7,388.8" fill="#7a520c" stroke="#2e2000"/>
<text class="lg" transform="translate(1025.8,401) scale(1.015,1)">40<tspan class="dg" dx="0.2" dy="2.6">°</tspan><tspan dx="-1.2" dy="-2.6">C</tspan><tspan class="hy" dy="1.2">-</tspan><tspan dy="-1.2">48 h</tspan></text>
<circle cx="1004" cy="433.1" r="16.6" fill="#00bb00" stroke="#005000"/>
<text class="lg" transform="translate(1025.8,439.2) scale(1.015,1)">28<tspan class="dg" dx="0.2" dy="2.6">°</tspan><tspan dx="-1.2" dy="-2.6">C</tspan><tspan class="hy" dy="1.2">-</tspan><tspan dy="-1.2">48+6 h</tspan></text>
<rect x="988.7" y="456" width="30.6" height="30.6" fill="#c2d7ea" stroke="#2a3024"/>
<text class="lg" transform="translate(1025.8,477.5) scale(1.015,1)">40<tspan class="dg" dx="0.2" dy="2.6">°</tspan><tspan dx="-1.2" dy="-2.6">C</tspan><tspan class="hy" dy="1.2">-</tspan><tspan dy="-1.2">48+6 h</tspan></text>
<polygon points="1004,492.9 1018.6,517.9 989.4,517.9" fill="#aabb00" stroke="#4a5000"/>
<text class="lg" transform="translate(1025.8,515.8) scale(1.015,1)">QC</text>
<circle cx="2293.7" cy="57.2" r="16.6" fill="#ff0000" stroke="#8c1010"/>
<text class="lg" transform="translate(2315.2,63.4) scale(1.015,1)">0 h</text>
<rect x="2278.4" y="80.2" width="30.6" height="30.6" fill="#0000ff" stroke="#00006a"/>
<text class="lg" transform="translate(2315.2,101.7) scale(1.015,1)">28<tspan class="dg" dx="0.2" dy="2.6">°</tspan><tspan dx="-1.2" dy="-2.6">C</tspan><tspan class="hy" dy="1.2">-</tspan><tspan dy="-1.2">6 h</tspan></text>
<polygon points="2293.7,117.1 2308.3,142.1 2279.1,142.1" fill="#00ff00" stroke="#006000"/>
<text class="lg" transform="translate(2315.2,140) scale(1.015,1)">40<tspan class="dg" dx="0.2" dy="2.6">°</tspan><tspan dx="-1.2" dy="-2.6">C</tspan><tspan class="hy" dy="1.2">-</tspan><tspan dy="-1.2">6 h</tspan></text>
<polygon points="2279.1,163.8 2308.3,163.8 2293.7,188.8" fill="#00ffff" stroke="#0f5a50"/>
<text class="lg" transform="translate(2315.2,178.3) scale(1.015,1)">28<tspan class="dg" dx="0.2" dy="2.6">°</tspan><tspan dx="-1.2" dy="-2.6">C</tspan><tspan class="hy" dy="1.2">-</tspan><tspan dy="-1.2">12 h</tspan></text>
<polygon points="2293.7,193.8 2310.3,210.4 2293.7,227 2277.1,210.4" fill="#fac898" stroke="#7a6040"/>
<text class="lg" transform="translate(2315.2,216.6) scale(1.015,1)">40<tspan class="dg" dx="0.2" dy="2.6">°</tspan><tspan dx="-1.2" dy="-2.6">C</tspan><tspan class="hy" dy="1.2">-</tspan><tspan dy="-1.2">12 h</tspan></text>
<polygon points="2293.7,231.9 2309.7,243.5 2303.6,262.3 2283.8,262.3 2277.7,243.5" fill="#7700c6" stroke="#30004a"/>
<text class="lg" transform="translate(2315.2,254.9) scale(1.015,1)">28<tspan class="dg" dx="0.2" dy="2.6">°</tspan><tspan dx="-1.2" dy="-2.6">C</tspan><tspan class="hy" dy="1.2">-</tspan><tspan dy="-1.2">24 h</tspan></text>
<polygon points="2293.7,270.4 2308.9,278.7 2308.9,295.3 2293.7,303.6 2278.5,295.3 2278.5,278.7" fill="#ff8a00" stroke="#754800"/>
<text class="lg" transform="translate(2315.2,293.2) scale(1.015,1)">40<tspan class="dg" dx="0.2" dy="2.6">°</tspan><tspan dx="-1.2" dy="-2.6">C</tspan><tspan class="hy" dy="1.2">-</tspan><tspan dy="-1.2">24 h</tspan></text>
<path d="M2293.7,308.5 Q2295.5,316.8 2298.2,320.8 Q2302.2,323.5 2310.5,325.3 Q2302.2,327.1 2298.2,329.8 Q2295.5,333.8 2293.7,342.1 Q2291.9,333.8 2289.2,329.8 Q2285.2,327.1 2276.9,325.3 Q2285.2,323.5 2289.2,320.8 Q2291.9,316.8 2293.7,308.5Z" fill="#ff00ff" stroke="#4a1038"/>
<text class="lg" transform="translate(2315.2,331.5) scale(1.015,1)">28<tspan class="dg" dx="0.2" dy="2.6">°</tspan><tspan dx="-1.2" dy="-2.6">C</tspan><tspan class="hy" dy="1.2">-</tspan><tspan dy="-1.2">48 h</tspan></text>
<polygon points="2293.7,346.7 2298,357.6 2309.8,358.4 2300.7,365.9 2303.6,377.3 2293.7,371 2283.8,377.3 2286.7,365.9 2277.6,358.4 2289.4,357.6" fill="#7a520c" stroke="#2e2000"/>
<text class="lg" transform="translate(2315.2,369.8) scale(1.015,1)">40<tspan class="dg" dx="0.2" dy="2.6">°</tspan><tspan dx="-1.2" dy="-2.6">C</tspan><tspan class="hy" dy="1.2">-</tspan><tspan dy="-1.2">48 h</tspan></text>
<circle cx="2293.7" cy="401.9" r="16.6" fill="#00bb00" stroke="#005000"/>
<text class="lg" transform="translate(2315.2,408.1) scale(1.015,1)">28<tspan class="dg" dx="0.2" dy="2.6">°</tspan><tspan dx="-1.2" dy="-2.6">C</tspan><tspan class="hy" dy="1.2">-</tspan><tspan dy="-1.2">48+6 h</tspan></text>
<rect x="2278.4" y="424.9" width="30.6" height="30.6" fill="#c2d7ea" stroke="#2a3024"/>
<text class="lg" transform="translate(2315.2,446.4) scale(1.015,1)">40<tspan class="dg" dx="0.2" dy="2.6">°</tspan><tspan dx="-1.2" dy="-2.6">C</tspan><tspan class="hy" dy="1.2">-</tspan><tspan dy="-1.2">48+6 h</tspan></text>
<polygon points="2293.7,461.8 2308.3,486.8 2279.1,486.8" fill="#aabb00" stroke="#4a5000"/>
<text class="lg" transform="translate(2315.2,484.7) scale(1.015,1)">QC</text>
</g>
</svg>
</body></html>
